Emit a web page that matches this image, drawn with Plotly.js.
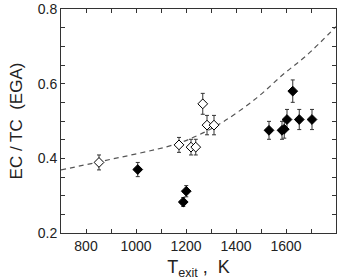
<!DOCTYPE html>
<html>
<head>
<meta charset="utf-8">
<script src="https://cdn.plot.ly/plotly-3.0.1.min.js"></script>
<style>html,body{margin:0;padding:0;background:#fff;}#chart{width:349px;height:280px;}</style>
</head>
<body>
<div id="chart"></div>
<script>
// Open diamonds
var openX = [852, 1172, 1220, 1239, 1267, 1284, 1312];
var openY = [0.389, 0.436, 0.430, 0.430, 0.546, 0.489, 0.489];
var openErr = [0.020, 0.020, 0.021, 0.021, 0.028, 0.026, 0.026];
// Filled diamonds
var fillX = [1007, 1189, 1201, 1532, 1584, 1593, 1604, 1627, 1653, 1704];
var fillY = [0.370, 0.283, 0.312, 0.475, 0.475, 0.478, 0.504, 0.580, 0.504, 0.504];
var fillErr = [0.019, 0.012, 0.015, 0.024, 0.024, 0.024, 0.027, 0.030, 0.027, 0.027];
// Dashed fit curve
var fitX = [700, 869, 1149, 1249, 1349, 1483, 1589, 1683, 1800];
var fitY = [0.369, 0.393, 0.436, 0.462, 0.498, 0.562, 0.625, 0.676, 0.753];
var xTicks = [800, 1000, 1200, 1400, 1600, 1800];
var yTicks = [0.2, 0.4, 0.6, 0.8];

var font = "Liberation Sans, Arial, sans-serif";
var traces = [
  {x: fitX, y: fitY, mode: 'lines', line: {color: '#555', width: 1.2, dash: '5px,4px', shape: 'spline'}, hoverinfo: 'skip'},
  {x: fillX, y: fillY, mode: 'markers', marker: {symbol: 'diamond', size: 7.5, color: '#000', line: {color: '#000', width: 1}},
   error_y: {type: 'data', array: fillErr, visible: true, color: '#333', thickness: 1, width: 2}},
  {x: openX, y: openY, mode: 'markers', marker: {symbol: 'diamond', size: 7.5, color: '#fff', line: {color: '#000', width: 1}},
   error_y: {type: 'data', array: openErr, visible: true, color: '#333', thickness: 1, width: 2}}
];
var layout = {
  width: 349, height: 280,
  margin: {l: 61, r: 13, t: 9, b: 47},
  showlegend: false,
  paper_bgcolor: '#fff', plot_bgcolor: '#fff',
  font: {family: font, size: 14, color: '#222'},
  xaxis: {
    range: [700, 1800], tickvals: xTicks, ticks: 'inside', ticklen: 4, tickcolor: '#333',
    showline: true, linecolor: '#333', linewidth: 1, mirror: 'allticks', showgrid: false, zeroline: false,
    minor: {dtick: 100, tick0: 700, ticks: 'inside', ticklen: 4, tickcolor: '#333', showgrid: false},
    tickfont: {size: 14, family: font, color: '#222'},
    title: {text: 'T<sub>exit</sub> ,  K', font: {size: 18, family: font, color: '#222'}, standoff: 8}
  },
  yaxis: {
    range: [0.2, 0.8], tickvals: yTicks, tickformat: '.1f', ticks: 'inside', ticklen: 4, tickcolor: '#333',
    showline: true, linecolor: '#333', linewidth: 1, mirror: 'allticks', showgrid: false, zeroline: false,
    minor: {dtick: 0.05, tick0: 0.2, ticks: 'inside', ticklen: 4, tickcolor: '#333', showgrid: false},
    tickfont: {size: 14, family: font, color: '#222'},
    title: {text: 'EC / TC  (EGA)', font: {size: 17, family: font, color: '#222'}, standoff: 10}
  }
};
Plotly.newPlot('chart', traces, layout, {displayModeBar: false, staticPlot: true});
</script>
</body>
</html>
